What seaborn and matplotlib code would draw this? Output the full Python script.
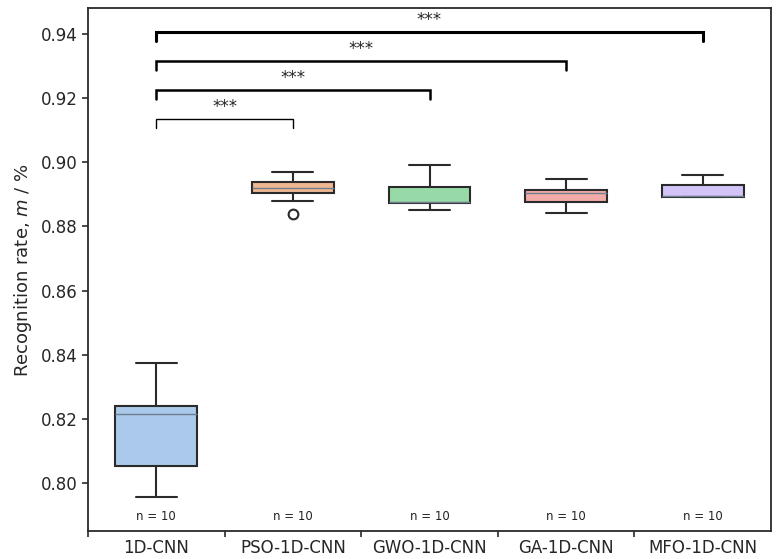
import matplotlib
matplotlib.use('Agg')
import matplotlib.pyplot as plt
import numpy as np
import pandas as pd
import seaborn as sns

# recognition rate of the ten runs per model
models = ['1D-CNN', 'PSO-1D-CNN', 'GWO-1D-CNN', 'GA-1D-CNN', 'MFO-1D-CNN']
cnn = [0.7956, 0.8010, 0.8050, 0.8062, 0.8210, 0.8220, 0.8235, 0.8243, 0.8300, 0.8374]
pso = [0.8839, 0.8880, 0.8902, 0.8906, 0.8920, 0.8922, 0.8934, 0.8939, 0.8950, 0.8970]
gwo = [0.8851, 0.8862, 0.8871, 0.8876, 0.8876, 0.8878, 0.8921, 0.8925, 0.8950, 0.8991]
ga = [0.8843, 0.8860, 0.8874, 0.8878, 0.8902, 0.8904, 0.8910, 0.8914, 0.8930, 0.8949]
mfo = [0.8892, 0.8892, 0.8893, 0.8893, 0.8893, 0.8894, 0.8927, 0.8930, 0.8945, 0.8960]

# significance brackets: 1D-CNN against each optimised model
sig_pairs = [(0, 1), (0, 2), (0, 3), (0, 4)]
sig_labels = ['***', '***', '***', '***']

if __name__ == '__main__':
    runs = [cnn, pso, gwo, ga, mfo]
    df = pd.DataFrame({'model': np.repeat(models, [len(r) for r in runs]),
                       'rate': np.concatenate(runs)})

    sns.set_style('ticks')
    plt.rcParams['font.family'] = ['DejaVu Sans']

    fig = plt.figure(figsize=(7.8, 5.59), dpi=100)
    ax = fig.add_axes([0.1128, 0.050, 0.8757, 0.935])

    edge = '#2a2a2a'
    sns.boxplot(data=df, x='model', y='rate', hue='model', palette='pastel',
                width=0.6, linewidth=1.5, linecolor=edge, legend=False,
                flierprops=dict(marker='o', markerfacecolor='white',
                                markeredgecolor=edge, markersize=7,
                                markeredgewidth=1.5),
                medianprops=dict(color='#6f7f8f', linewidth=1.0), ax=ax)

    # sample size under each box
    for i, r in enumerate(runs):
        ax.text(i, 0.7896, f'n = {len(r)}', ha='center', va='center',
                fontsize=8.5, color='#222222')

    # significance brackets
    widths = [1.0, 1.8, 1.8, 2.2]
    for k, (a, b) in enumerate(sig_pairs):
        y = 0.9134 + 0.0091 * k
        h = 0.0028
        ax.plot([a, a, b, b], [y - h, y, y, y - h], color='black',
                lw=widths[k], solid_joinstyle='miter')
        ax.text((a + b) / 2, y + 0.0038, sig_labels[k], ha='center',
                va='center', fontsize=12)

    # axes, ticks and labels
    ax.set_xlim(-0.5, 4.5)
    ax.set_ylim(0.785, 0.948)
    ax.set_yticks(np.arange(0.80, 0.9401, 0.02))
    ax.set_yticklabels([f'{v:.2f}' for v in np.arange(0.80, 0.9401, 0.02)],
                       fontsize=12)
    ax.set_xticks([-0.5, 0.5, 1.5, 2.5, 3.5])
    ax.set_xticklabels([])
    ax.set_xticks(range(len(models)), minor=True)
    ax.set_xticklabels(models, minor=True, fontsize=12)
    ax.tick_params(axis='x', which='minor', length=0, pad=6)
    ax.tick_params(axis='both', which='major', length=4, width=1.2,
                   color=edge)
    ax.set_xlabel('')
    ax.set_ylabel('Recognition rate, $m$ / %', fontsize=13, labelpad=5)
    for s in ax.spines.values():
        s.set_linewidth(1.3)
        s.set_color(edge)

    fig.savefig('out.png', dpi=100, facecolor='white')
